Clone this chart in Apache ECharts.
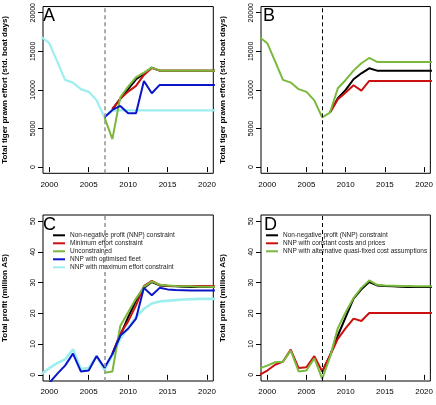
<!DOCTYPE html>
<html>
<head>
<meta charset="utf-8">
<script src="https://cdn.jsdelivr.net/npm/echarts@6/dist/echarts.min.js"></script>
<style>
html,body{margin:0;padding:0;background:#fff;}
#chart{width:436px;height:405px;}
</style>
</head>
<body>
<div id="chart"></div>
<script>
// ---------- data ----------
const years = [1999,2000,2001,2002,2003,2004,2005,2006,2007,2008,2009,2010,2011,2012,2013,2014,2015,2016,2017,2018,2019,2020,2021];
const xTicks = [2000,2005,2010,2015,2020];
const effortTicks = [0,5000,10000,15000,20000];
const profitTicks = [0,10,20,30,40,50];
const N = null;

// Panel A: effort
const aNNP       = [N,N,N,N,N,N,N,N,N,7500,8840,10090,11380,12070,12890,12500,12500,12500,12500,12500,12500,12500,12500];
const aMinEffort = [N,N,N,N,N,N,N,N,N,7500,8840,9780,10520,11940,12840,12500,12500,12500,12500,12500,12500,12500,12500];
const aUncon     = [N,N,N,N,N,N,N,N,6450,3620,9050,10430,11640,12240,12890,12500,12500,12500,12500,12500,12500,12500,12500];
const aOptFleet  = [N,N,N,N,N,N,N,N,6450,7410,7930,6980,6980,11160,9570,10650,10650,10650,10650,10650,10650,10650,10650];
const aMaxEffort = [16850,16050,13700,11300,10950,10100,9750,8650,6450,7300,7350,7350,7350,7350,7350,7350,7350,7350,7350,7350,7350,7350,7350];

// Panel B: effort
const bNNP       = [N,N,N,N,N,N,N,N,N,7070,8920,10000,11380,12155,12800,12500,12500,12500,12500,12500,12500,12500,12500];
const bConstCost = [N,N,N,N,N,N,N,N,N,7070,8790,9655,10600,9910,11160,11160,11160,11160,11160,11160,11160,11160,11160];
const bAltFixed  = [16850,16050,13700,11300,10950,10100,9750,8650,6450,7070,10215,11290,12500,13450,14140,13620,13620,13620,13620,13620,13620,13620,13620];

// Panel C: profit
const cNNP       = [N,N,N,N,N,N,N,N,N,6.8,12.8,18.8,24.2,28.3,30.2,29.1,28.9,28.8,28.7,28.6,28.6,28.6,28.6];
const cMinEffort = [N,N,N,N,N,N,N,N,N,6.8,13.4,17.4,22.6,28.9,30.6,29.3,29.0,28.9,28.9,28.9,28.9,28.9,28.8];
const cUncon     = [N,N,N,N,N,N,N,N,0.7,1.1,15.9,20.4,24.8,28.6,30.4,29.3,29.1,28.9,28.8,28.8,28.7,28.7,28.6];
const cOptFleet  = [N,-2.6,0.3,3.0,6.9,1.1,1.4,6.1,2.3,6.8,12.8,15.0,18.3,28.3,25.9,28.3,27.8,27.6,27.5,27.4,27.4,27.4,27.4];
const cMaxEffort = [0.3,2.2,3.8,5.0,8.3,1.9,2.2,6.1,1.5,6.5,11.7,15.5,18.8,21.5,23.2,23.9,24.1,24.3,24.5,24.6,24.7,24.7,24.7];

// Panel D: profit
const dNNP       = [N,N,N,N,N,N,N,N,1.0,6.3,12.8,18.8,24.8,27.8,30.2,29.1,28.9,28.8,28.7,28.6,28.6,28.6,28.6];
const dConstCost = [0.0,1.4,3.3,4.3,8.2,2.2,2.5,6.1,1.1,6.3,11.7,15.2,18.3,17.5,20.1,20.1,20.1,20.1,20.1,20.1,20.1,20.1,20.1];
const dAltFixed  = [2.1,3.0,4.1,4.3,7.9,1.1,1.4,5.4,-1.3,5.8,15.2,20.4,25.0,28.3,30.7,29.3,29.1,29.0,28.9,28.9,28.8,28.8,28.8];

const names = {
  nnp: 'Non-negative profit (NNP) constraint',
  minE: 'Minimum effort constraint',
  uncon: 'Unconstrained',
  opt: 'NNP with optimised fleet',
  maxE: 'NNP with maximum effort constraint',
  constC: 'NNP with constant costs and prices',
  alt: 'NNP with alternative quasi-fixed cost assumptions'
};
const COL = {black:'#000000', red:'#cc1010', green:'#7ab83e', blue:'#0a14c8', cyan:'#9eeef0'};

// ---------- layout ----------
const FONT = '"Liberation Sans", Arial, Helvetica, sans-serif';
const grids = [
  {left:41, top:6,   width:172.3, height:167.3},
  {left:261, top:6,  width:172.3, height:167.3},
  {left:41, top:215, width:172.3, height:166},
  {left:261, top:215,width:172.3, height:166}
].map(g => Object.assign(g, {show:true, borderColor:'#000', borderWidth:1, backgroundColor:'transparent'}));

function xAxis(i){
  return {
    type:'value', gridIndex:i, min:1999.2, max:2020.8,
    splitLine:{show:false}, axisLine:{show:false},
    axisTick:{show:true, inside:false, length:5, lineStyle:{color:'#000', width:1}, customValues:xTicks},
    axisLabel:{show:true, margin:7, fontSize:8, color:'#000', fontFamily:FONT, customValues:xTicks, formatter:v=>String(v)}
  };
}
function yAxis(i, isEffort){
  const ticks = isEffort ? effortTicks : profitTicks;
  return {
    type:'value', gridIndex:i,
    min: isEffort ? -800 : -2, max: isEffort ? 20800 : 52,
    name: isEffort ? 'Total tiger prawn effort (std. boat days)' : 'Total profit (million AS)',
    nameLocation:'middle', nameGap:34, nameRotate:90,
    nameTextStyle:{fontSize:8, fontWeight:'bold', color:'#000', fontFamily:FONT},
    splitLine:{show:false}, axisLine:{show:false},
    axisTick:{show:true, inside:false, length:5, lineStyle:{color:'#000', width:1}, customValues:ticks},
    axisLabel:{show:true, rotate:90, margin:6, fontSize:7, color:'#000', fontFamily:FONT, customValues:ticks, formatter:v=>String(v)}
  };
}

function line(name, arr, color, gi, width, vline){
  const s = {
    type:'line', name:name, xAxisIndex:gi, yAxisIndex:gi,
    data: years.map((y,k)=>[y, arr[k]]),
    symbol:'none', showSymbol:false, connectNulls:false, clip:true,
    itemStyle:{color:color}, lineStyle:{color:color, width:width||2},
    emphasis:{disabled:true}, silent:true, animation:false
  };
  if (vline){
    s.markLine = {
      silent:true, symbol:['none','none'], label:{show:false}, animation:false,
      lineStyle:vline, data:[{xAxis:2007}]
    };
  }
  return s;
}
const grayDash = {color:'#999', width:1.6, type:[4,3]};
const blackDash = {color:'#000', width:1, type:[4,3]};

const series = [
  // A
  line(names.maxE, aMaxEffort, COL.cyan, 0, 2.2, grayDash),
  line(names.nnp, aNNP, COL.black, 0),
  line(names.minE, aMinEffort, COL.red, 0),
  line(names.uncon, aUncon, COL.green, 0),
  line(names.opt, aOptFleet, COL.blue, 0),
  // B
  line(names.nnp, bNNP, COL.black, 1, 2, blackDash),
  line(names.constC, bConstCost, COL.red, 1),
  line(names.alt, bAltFixed, COL.green, 1),
  // C
  line(names.maxE, cMaxEffort, COL.cyan, 2, 2.6, grayDash),
  line(names.nnp, cNNP, COL.black, 2),
  line(names.minE, cMinEffort, COL.red, 2),
  line(names.uncon, cUncon, COL.green, 2),
  line(names.opt, cOptFleet, COL.blue, 2),
  // D
  line(names.nnp, dNNP, COL.black, 3, 2, blackDash),
  line(names.constC, dConstCost, COL.red, 3),
  line(names.alt, dAltFixed, COL.green, 3)
];

function legend(left, top, data){
  return {
    left:left, top:top, orient:'vertical', padding:0, itemGap:0,
    itemWidth:12, itemHeight:2, icon:'rect', selectedMode:false,
    textStyle:{fontSize:6.5, lineHeight:8, color:'#222', fontFamily:FONT, padding:[0,0,0,0]},
    data:data
  };
}

const panelLetter = (t, l, tp) => ({text:t, left:l, top:tp, padding:0,
  textStyle:{fontSize:18, fontWeight:'normal', color:'#000', fontFamily:FONT}});

const option = {
  animation:false,
  backgroundColor:'#fff',
  title:[panelLetter('A',43,7), panelLetter('B',263,7), panelLetter('C',43,216), panelLetter('D',264,216)],
  grid:grids,
  xAxis:[xAxis(0),xAxis(1),xAxis(2),xAxis(3)],
  yAxis:[yAxis(0,true),yAxis(1,true),yAxis(2,false),yAxis(3,false)],
  legend:[
    legend(53, 231.3, [names.nnp, names.minE, names.uncon, names.opt, names.maxE]),
    legend(266, 231.3, [names.nnp, names.constC, names.alt])
  ],
  series:series
};
const chart = echarts.init(document.getElementById('chart'), null, {renderer:'canvas'});
chart.setOption(option);
</script>
</body>
</html>
